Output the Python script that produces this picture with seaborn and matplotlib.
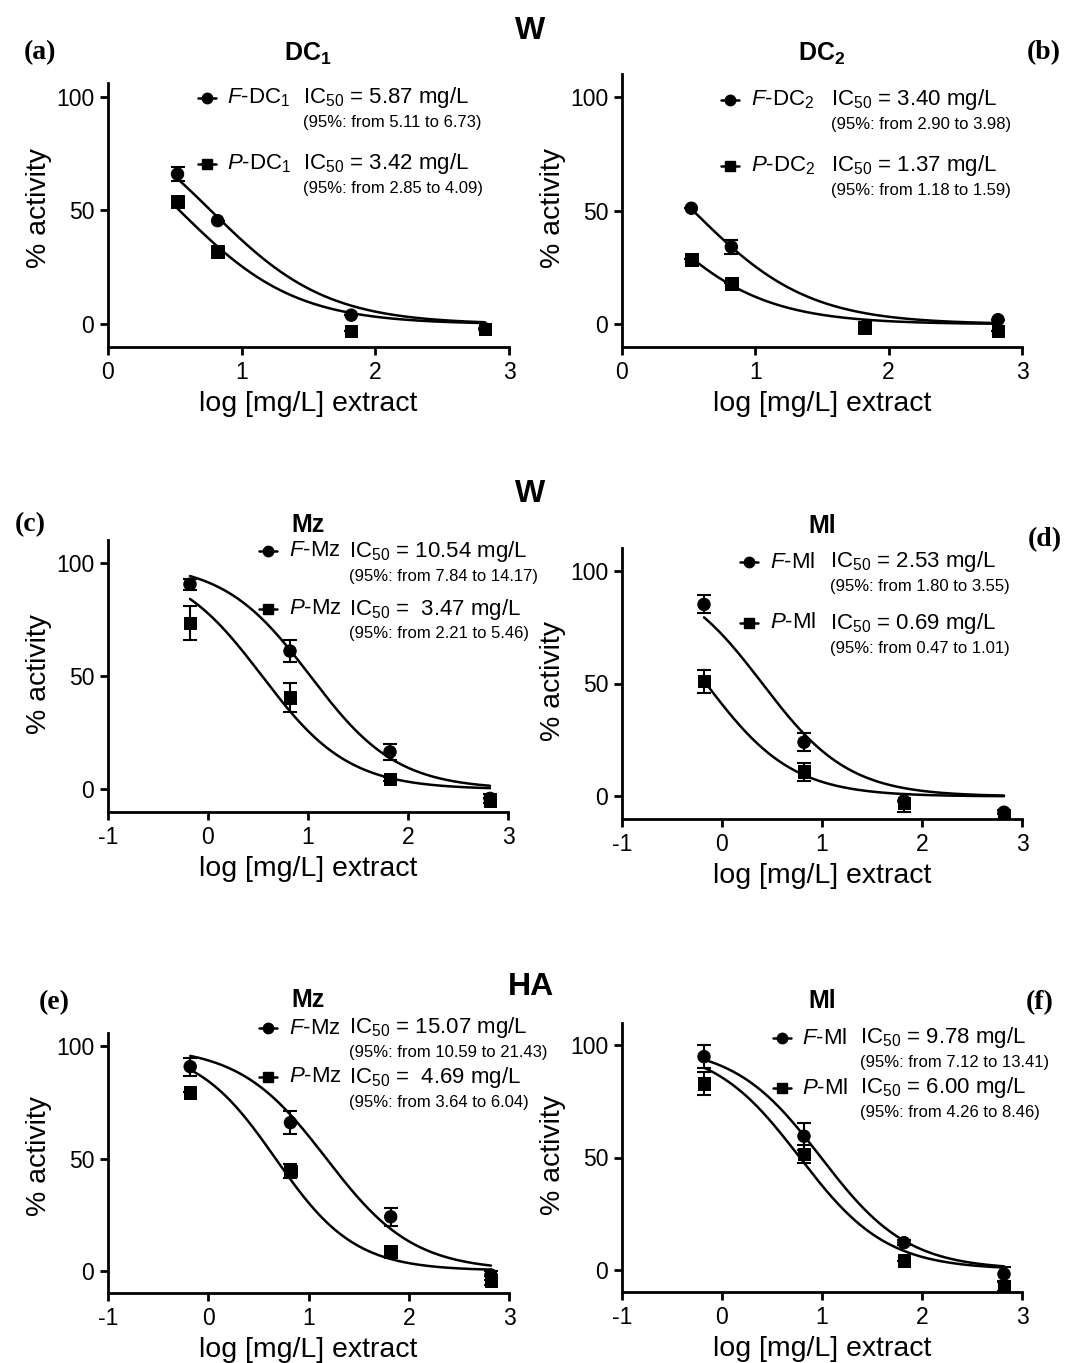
import matplotlib
matplotlib.use("Agg")
import matplotlib.pyplot as plt
import matplotlib.transforms as mtransforms
import numpy as np
import pandas as pd
import seaborn as sns

# log10 of the tested concentrations
x_dc = [0.52, 0.82, 1.82, 2.82]
x_m = [-0.18, 0.82, 1.82, 2.82]

# % activity (mean) and error bar half-widths
f_dc1 = [66, 45.5, 4, -2]
f_dc1_err = [3, 0, 0, 0]
p_dc1 = [54, 32, -3, -2]
p_dc1_err = [0, 0, 0, 0]

f_dc2 = [51, 34, -1, 2]
f_dc2_err = [0, 3, 0, 0]
p_dc2 = [28.5, 18, -1.5, -3]
p_dc2_err = [0, 0, 0, 0]

f_mz_w = [90.5, 61, 16.5, -4]
f_mz_w_err = [2.5, 5, 3.5, 2]
p_mz_w = [73.5, 40.5, 4.5, -5]
p_mz_w_err = [7.5, 6.5, 1, 1]

f_ml_w = [85, 24, -2, -7]
f_ml_w_err = [4, 4, 0, 1]
p_ml_w = [51, 11, -3, -9]
p_ml_w_err = [5, 4, 4, 1]

f_mz_ha = [91, 66, 24, -2]
f_mz_ha_err = [4, 5, 4, 2]
p_mz_ha = [79.5, 44.5, 8.5, -4.5]
p_mz_ha_err = [0, 3, 0, 2]

f_ml_ha = [95, 59.5, 12, -2]
f_ml_ha_err = [5, 6, 1, 3]
p_ml_ha = [83, 51.5, 4, -7.5]
p_ml_ha_err = [5, 4, 0, 2]

# fitted IC50 (mg/L), hill slopes and 95% CI text
ic50_f = [5.87, 3.40, 10.54, 2.53, 15.07, 9.78]
ic50_p = [3.42, 1.37, 3.47, 0.69, 4.69, 6.00]
hill_f = [1.0, 1.0, 1.0, 1.0, 1.0, 1.0]
hill_p = [1.0, 1.0, 1.0, 1.0, 1.1, 1.0]
ci_f = ["5.11 to 6.73", "2.90 to 3.98", "7.84 to 14.17", "1.80 to 3.55", "10.59 to 21.43", "7.12 to 13.41"]
ci_p = ["2.85 to 4.09", "1.18 to 1.59", "2.21 to 5.46", "0.47 to 1.01", "3.64 to 6.04", "4.26 to 8.46"]

panel_letters = ["(a)", "(b)", "(c)", "(d)", "(e)", "(f)"]
panel_titles = [r"$\mathbf{DC_1}$", r"$\mathbf{DC_2}$", "Mz", "Ml", "Mz", "Ml"]
label_f = [r"$\mathit{F}$-DC$_1$", r"$\mathit{F}$-DC$_2$", r"$\mathit{F}$-Mz", r"$\mathit{F}$-Ml", r"$\mathit{F}$-Mz", r"$\mathit{F}$-Ml"]
label_p = [r"$\mathit{P}$-DC$_1$", r"$\mathit{P}$-DC$_2$", r"$\mathit{P}$-Mz", r"$\mathit{P}$-Ml", r"$\mathit{P}$-Mz", r"$\mathit{P}$-Ml"]
ic50_fmt_f = ["IC$_{50}$ = 5.87 mg/L", "IC$_{50}$ = 3.40 mg/L", "IC$_{50}$ = 10.54 mg/L",
              "IC$_{50}$ = 2.53 mg/L", "IC$_{50}$ = 15.07 mg/L", "IC$_{50}$ = 9.78 mg/L"]
ic50_fmt_p = ["IC$_{50}$ = 3.42 mg/L", "IC$_{50}$ = 1.37 mg/L", "IC$_{50}$ =  3.47 mg/L",
              "IC$_{50}$ = 0.69 mg/L", "IC$_{50}$ =  4.69 mg/L", "IC$_{50}$ = 6.00 mg/L"]
group_titles = ["W", "W", "HA"]

series = [
    (x_dc, f_dc1, f_dc1_err, p_dc1, p_dc1_err),
    (x_dc, f_dc2, f_dc2_err, p_dc2, p_dc2_err),
    (x_m, f_mz_w, f_mz_w_err, p_mz_w, p_mz_w_err),
    (x_m, f_ml_w, f_ml_w_err, p_ml_w, p_ml_w_err),
    (x_m, f_mz_ha, f_mz_ha_err, p_mz_ha, p_mz_ha_err),
    (x_m, f_ml_ha, f_ml_ha_err, p_ml_ha, p_ml_ha_err),
]

# layout in pixels: axes box (left, right, top, bottom), y top limit, x left limit
boxes = [(108, 509, 83, 347), (622, 1022, 74, 347),
         (108, 508, 540, 812), (622, 1022, 548, 819),
         (108, 509, 1033, 1293), (622, 1022, 1023, 1292)]
ytops = [106, 110, 110, 110, 106, 110]
xlefts = [0, 0, -1, -1, -1, -1]
letter_pos = [(40, 53), (1044, 53), (30, 525), (1045, 540), (54, 1003), (1040, 1003)]
title_pos = [(308, 54), (822, 54), (308, 525), (822, 526), (308, 1000), (822, 1001)]
group_pos = [(530, 31), (530, 494), (531, 987)]
# legend: marker x, label x, IC50 x, y of F row, y of P row
legend_pos = [(207, 227, 303, 98, 164), (730, 751, 831, 100, 166),
              (268, 289, 349, 551, 609), (749, 770, 830, 562, 623),
              (268, 289, 349, 1028, 1077), (782, 802, 860, 1038, 1088)]

W, H = 1067, 1363
sns.set_style("ticks")
plt.rcParams["font.family"] = ["Liberation Sans", "DejaVu Sans"]
plt.rcParams["mathtext.fontset"] = "custom"
plt.rcParams["mathtext.rm"] = "Liberation Sans"
plt.rcParams["mathtext.it"] = "Liberation Sans:italic"
plt.rcParams["mathtext.bf"] = "Liberation Sans:bold"
plt.rcParams["mathtext.default"] = "regular"
plt.rcParams["axes.unicode_minus"] = False
plt.rcParams["text.color"] = "black"
plt.rcParams["axes.labelcolor"] = "black"
plt.rcParams["xtick.color"] = "black"
plt.rcParams["ytick.color"] = "black"
plt.rcParams["axes.edgecolor"] = "black"

fig = plt.figure(figsize=(W / 100, H / 100), dpi=100)


def fx(px):
    return px / W


def fy(py):
    return 1 - py / H


def curve(x0, x1, ic50, h):
    xs = np.linspace(x0, x1, 200)
    return xs, 100 / (1 + 10 ** ((xs - np.log10(ic50)) * h))


for i in range(6):
    l, r, t, b = boxes[i]
    ax = fig.add_axes([fx(l), fy(b), (r - l) / W, (b - t) / H])
    xs, fv, fe, pv, pe = series[i]
    df = pd.DataFrame({"x": xs + xs, "y": fv + pv, "err": fe + pe,
                       "series": ["F"] * 4 + ["P"] * 4})
    cx_f, cy_f = curve(xs[0], xs[-1], ic50_f[i], hill_f[i])
    cx_p, cy_p = curve(xs[0], xs[-1], ic50_p[i], hill_p[i])
    cdf = pd.DataFrame({"x": np.concatenate([cx_f, cx_p]), "y": np.concatenate([cy_f, cy_p]),
                        "series": ["F"] * len(cx_f) + ["P"] * len(cx_p)})
    sns.lineplot(data=cdf, x="x", y="y", hue="series", palette={"F": "black", "P": "black"},
                 linewidth=1.8, legend=False, ax=ax)
    ax.errorbar(df["x"], df["y"], yerr=df["err"], fmt="none", ecolor="black",
                elinewidth=1.5, capsize=5, capthick=1.5)
    sns.scatterplot(data=df, x="x", y="y", style="series", markers={"F": "o", "P": "s"},
                    color="black", edgecolor="black", s=80, legend=False, ax=ax, zorder=3)

    ax.set_xlim(xlefts[i], 3)
    ax.set_ylim(-10, ytops[i])
    ax.set_xticks(list(range(xlefts[i], 4)))
    ax.set_yticks([0, 50, 100])
    sns.despine(ax=ax)
    for s in ["left", "bottom"]:
        ax.spines[s].set_linewidth(2)
    ax.tick_params(width=2, length=6, labelsize=16.5, direction="out", pad=4)
    ax.set_xlabel("log [mg/L] extract", fontsize=20.5, labelpad=5)
    ax.set_ylabel("% activity", fontsize=20.5)
    trans = mtransforms.blended_transform_factory(ax.transAxes, ax.transData)
    ax.yaxis.set_label_coords(-0.14, 51, transform=trans)

    # legend drawn by hand like the original
    mx, lx, ix, yf, yp = legend_pos[i]
    for yy, mk, lab, ictxt, ci in [(yf, "o", label_f[i], ic50_fmt_f[i], ci_f[i]),
                                   (yp, "s", label_p[i], ic50_fmt_p[i], ci_p[i])]:
        ax.plot([fx(mx - 9), fx(mx + 9)], [fy(yy), fy(yy)], color="black", lw=1.8,
                transform=fig.transFigure, clip_on=False)
        ax.plot([fx(mx)], [fy(yy)], marker=mk, color="black", markersize=7.5,
                transform=fig.transFigure, clip_on=False)
        fig.text(fx(lx), fy(yy), lab, fontsize=16, ha="left", va="center")
        fig.text(fx(ix), fy(yy), ictxt, fontsize=16, ha="left", va="center")
        fig.text(fx(ix), fy(yy + 25), "(95%: from " + ci + ")", fontsize=12, ha="left", va="center")

    fig.text(fx(title_pos[i][0]), fy(title_pos[i][1]), panel_titles[i], fontsize=18,
             fontweight="bold", ha="center", va="center")
    fig.text(fx(letter_pos[i][0]), fy(letter_pos[i][1]), panel_letters[i], fontsize=20,
             fontweight="bold", family="Liberation Serif", ha="center", va="center")

for g, (gx, gy) in zip(group_titles, group_pos):
    fig.text(fx(gx), fy(gy), g, fontsize=23, fontweight="bold", ha="center", va="center")

fig.savefig("out.png", dpi=100, facecolor="white")
